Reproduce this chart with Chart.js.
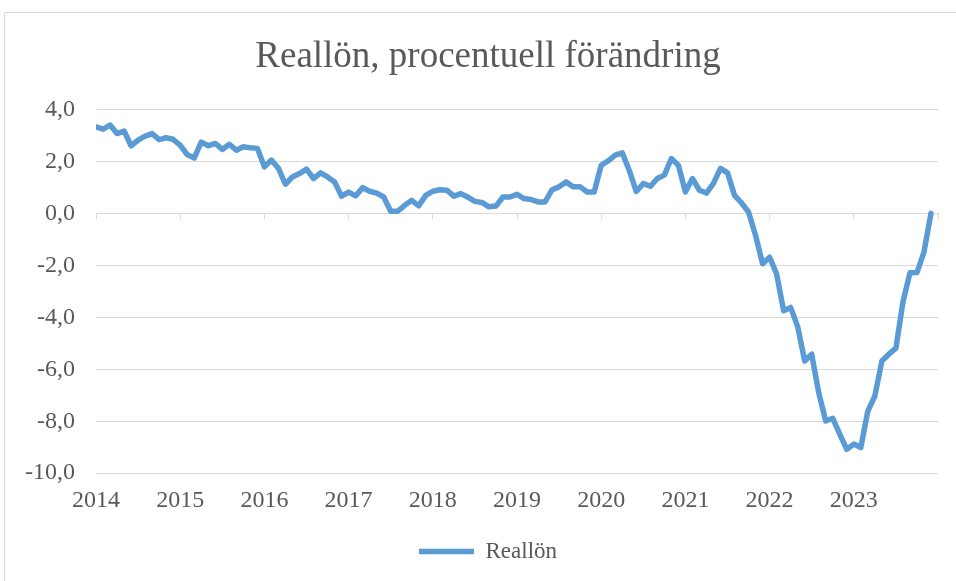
<!DOCTYPE html>
<html>
<head>
<meta charset="utf-8">
<script src="https://cdn.jsdelivr.net/npm/chart.js@4.4.1/dist/chart.umd.min.js"></script>
<style>
  html, body { margin: 0; padding: 0; background: #fff; overflow: hidden; }
  #frame {
    position: absolute; left: 4px; top: 12px;
    width: 966px; height: 600px;
    border: 1px solid #d9d9d9;
  }
  #wrap { position: relative; width: 966px; height: 580px; }
</style>
</head>
<body>
<div id="frame">
  <div id="wrap"><canvas id="reallonChart"></canvas></div>
</div>
<script>
// årsetiketter för x-axeln (en per januari)
const years = ['2014', '2015', '2016', '2017', '2018', '2019', '2020', '2021', '2022', '2023'];

// Reallön, procentuell förändring, månadsvärden jan 2014 - dec 2023 (avlästa)
const reallon = [
  3.33, 3.24, 3.40, 3.07, 3.17, 2.60, 2.82, 2.97, 3.07, 2.84, 2.91, 2.85,
  2.62, 2.26, 2.13, 2.74, 2.60, 2.69, 2.46, 2.66, 2.43, 2.56, 2.52, 2.50,
  1.79, 2.05, 1.73, 1.12, 1.40, 1.53, 1.70, 1.34, 1.56, 1.40, 1.21, 0.66,
  0.82, 0.67, 0.99, 0.85, 0.78, 0.63, 0.08, 0.08, 0.31, 0.50, 0.29, 0.69,
  0.85, 0.91, 0.89, 0.66, 0.76, 0.62, 0.46, 0.42, 0.25, 0.28, 0.63, 0.63,
  0.73, 0.57, 0.53, 0.44, 0.44, 0.91, 1.02, 1.21, 1.02, 1.02, 0.82, 0.82,
  1.85, 2.02, 2.24, 2.33, 1.65, 0.84, 1.15, 1.04, 1.34, 1.47, 2.11, 1.85,
  0.82, 1.34, 0.89, 0.78, 1.15, 1.73, 1.56, 0.69, 0.40, 0.05, -0.85, -1.94,
  -1.69, -2.33, -3.75, -3.62, -4.36, -5.68, -5.42, -6.90, -7.99, -7.89, -8.50, -9.08,
  -8.88, -9.01, -7.61, -7.03, -5.68, -5.42, -5.19, -3.42, -2.29, -2.28, -1.49, 0.0
];

// y-axelns gränser och steg
const yMin = -10;
const yMax = 4;
const yStep = 2;

const serif = "'Liberation Serif', 'Times New Roman', serif";
const textColor = '#595959';
const gridColor = '#d9d9d9';
const lineColor = '#5b9bd5';

const monthsPerYear = 12;
const points = reallon.map((v, i) => ({ x: i, y: v }));
const xMax = years.length * monthsPerYear;

const ctx = document.getElementById('reallonChart').getContext('2d');
new Chart(ctx, {
  type: 'line',
  data: {
    datasets: [{
      label: 'Reallön',
      data: points,
      borderColor: lineColor,
      backgroundColor: lineColor,
      borderWidth: 5.5,
      borderCapStyle: 'round',
      borderJoinStyle: 'round',
      pointRadius: 0,
      pointHoverRadius: 0,
      tension: 0,
      fill: false
    }]
  },
  options: {
    responsive: true,
    maintainAspectRatio: false,
    animation: false,
    events: [],
    layout: { padding: { left: 20, right: 20, top: 0, bottom: 20 } },
    scales: {
      x: {
        type: 'linear',
        min: 0,
        max: xMax,
        border: { display: false },
        grid: { display: false, drawTicks: false },
        ticks: {
          stepSize: monthsPerYear,
          autoSkip: false,
          maxRotation: 0,
          padding: 13,
          color: textColor,
          font: { family: serif, size: 24 },
          callback: (v) => {
            const k = v / monthsPerYear;
            return (Number.isInteger(k) && k < years.length) ? years[k] : '';
          }
        },
        afterFit: (scale) => { scale.height += 2; }
      },
      x0: {
        type: 'linear',
        axis: 'x',
        position: { y: 0 },
        min: 0,
        max: xMax,
        border: { display: false },
        grid: { drawOnChartArea: false, drawTicks: true, tickLength: 6, color: gridColor, lineWidth: 1 },
        ticks: { display: false, stepSize: monthsPerYear }
      },
      y: {
        min: yMin,
        max: yMax,
        border: { display: false },
        grid: { color: gridColor, lineWidth: 1, drawTicks: false },
        ticks: {
          stepSize: yStep,
          padding: 21,
          color: textColor,
          font: { family: serif, size: 24 },
          callback: (v) => v.toFixed(1).replace('.', ',')
        },
        afterFit: (scale) => { scale.width = 71; }
      },
      // tom axel till höger, bara för marginalen
      yRight: {
        type: 'linear',
        position: 'right',
        border: { display: false },
        grid: { drawOnChartArea: false, drawTicks: false },
        ticks: { display: false },
        afterFit: (scale) => { scale.width = 13; }
      }
    },
    plugins: {
      title: {
        display: true,
        text: 'Reallön, procentuell förändring',
        color: textColor,
        font: { family: serif, size: 37, weight: 'normal' },
        padding: { top: 22, bottom: 30 }
      },
      legend: {
        display: true,
        position: 'bottom',
        labels: {
          usePointStyle: true,
          pointStyle: 'line',
          pointStyleWidth: 55,
          color: textColor,
          font: { family: serif, size: 23 },
          padding: 10
        }
      },
      tooltip: { enabled: false }
    }
  }
});
</script>
</body>
</html>
